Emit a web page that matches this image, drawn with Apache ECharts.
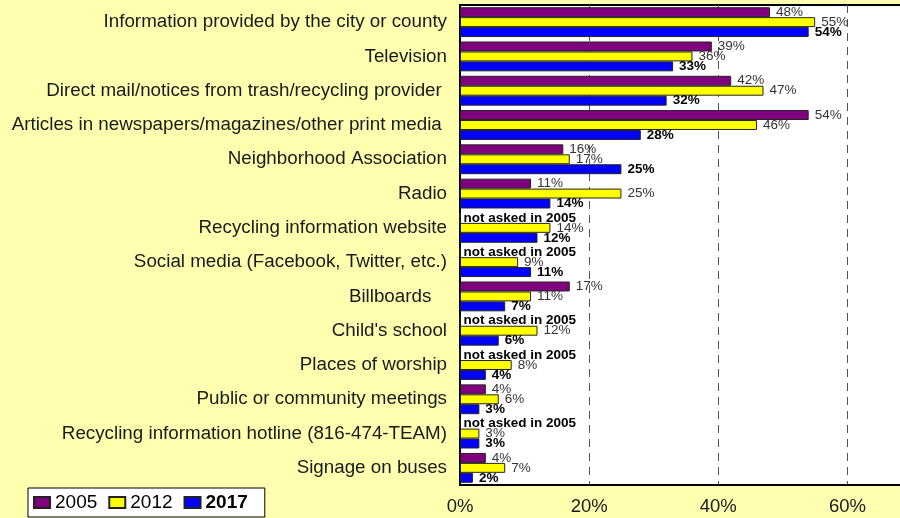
<!DOCTYPE html>
<html><head><meta charset="utf-8">
<script src="https://cdn.jsdelivr.net/npm/echarts@6/dist/echarts.min.js"></script>
<style>html,body{margin:0;padding:0;background:#ffffb0;}#c{width:900px;height:518px;}</style>
</head><body><div id="c"></div>
<script>
const categories = [
  "Information provided by the city or county",
  "Television",
  "Direct mail/notices from trash/recycling provider ",
  "Articles in newspapers/magazines/other print media ",
  "Neighborhood Association",
  "Radio",
  "Recycling information website",
  "Social media (Facebook, Twitter, etc.)",
  "Billboards   ",
  "Child's school",
  "Places of worship",
  "Public or community meetings",
  "Recycling information hotline (816-474-TEAM)",
  "Signage on buses"
];
const v2005 = [48, 39, 42, 54, 16, 11, null, null, 17, null, null, 4, null, 4];
const v2012 = [55, 36, 47, 46, 17, 25, 14, 9, 11, 12, 8, 6, 3, 7];
const v2017 = [54, 33, 32, 28, 25, 14, 12, 11, 7, 6, 4, 3, 3, 2];
const xTicks = {min: 0, max: 70, interval: 20};
const notAskedText = "not asked in 2005";

const FONT = "Liberation Sans, Arial, sans-serif";

function mkData(arr) {
  return arr.map(v => v === null ? {value: 0, label: {show: true, formatter: notAskedText, fontWeight: 'bold', color: '#000', fontSize: 13.5, distance: 3}} : v);
}

const chart = echarts.init(document.getElementById('c'), null, {renderer: 'canvas'});
const common = {
  type: 'bar', barGap: '0%', barCategoryGap: '13%',
  label: {show: true, position: 'right', distance: 6, formatter: '{c}%', fontFamily: FONT, fontSize: 13.5, color: '#333'}
};
chart.setOption({
  backgroundColor: '#ffffb0',
  animation: false,
  grid: {left: 460, top: 5, bottom: 33, right: -12, outerBoundsMode: 'none', containLabel: false,
         show: true, backgroundColor: '#ffffff', borderColor: '#000', borderWidth: 2},
  legend: {
    left: 28, top: 488, orient: 'horizontal',
    backgroundColor: '#ffffff', borderColor: '#000', borderWidth: 1,
    padding: [5, 17, 5, 5], itemWidth: 16, itemHeight: 11, itemGap: 11,
    icon: 'rect',
    data: ['2005', '2012', '2017'],
    formatter: n => n === '2017' ? '{b|2017}' : n,
    textStyle: {fontFamily: FONT, fontSize: 19, color: '#000', rich: {b: {fontWeight: 'bold', fontFamily: FONT, fontSize: 19, color: '#000'}}}
  },
  xAxis: {
    type: 'value', min: xTicks.min, max: xTicks.max, interval: xTicks.interval,
    axisLine: {show: true, lineStyle: {color: '#000', width: 2}},
    axisTick: {show: false},
    axisLabel: {formatter: '{value}%', fontFamily: FONT, fontSize: 18.5, color: '#1a1a1a', margin: 12, showMaxLabel: false},
    splitLine: {show: true, lineStyle: {color: '#555', type: [8, 6], width: 1}}
  },
  yAxis: {
    type: 'category', data: categories, inverse: true,
    axisLine: {show: true, lineStyle: {color: '#000', width: 2}},
    axisTick: {show: false},
    axisLabel: {fontFamily: FONT, fontSize: 18.8, color: '#1a1a1a', margin: 13}
  },
  series: [
    Object.assign({}, common, {name: '2005', data: mkData(v2005), itemStyle: {color: '#800080', borderColor: '#222', borderWidth: 1}}),
    Object.assign({}, common, {name: '2012', data: v2012, itemStyle: {color: '#ffff00', borderColor: '#222', borderWidth: 1}}),
    Object.assign({}, common, {name: '2017', data: v2017, itemStyle: {color: '#0000ff', borderColor: '#222', borderWidth: 1},
      label: Object.assign({}, common.label, {fontWeight: 'bold', color: '#000'})})
  ]
});
</script></body></html>
